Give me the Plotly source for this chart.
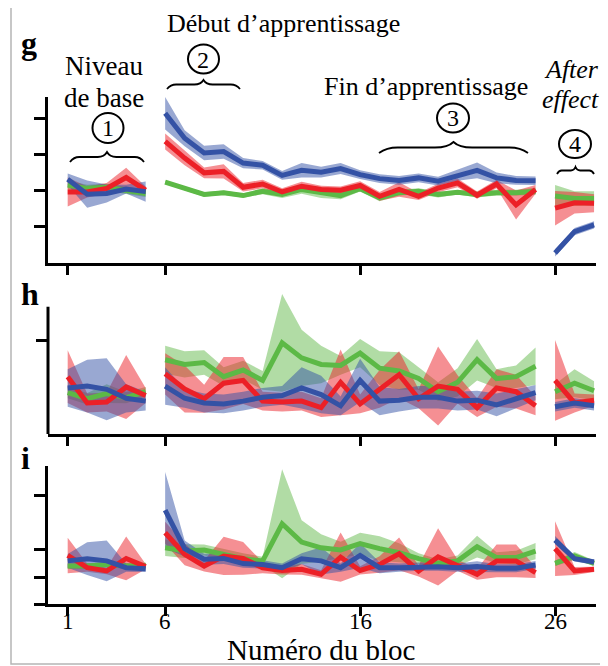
import plotly.graph_objects as go

# page body has an 8px margin: the figure is drawn from (8, 8)
OFF = 8
W, H = 608 - OFF, 666 - OFF

blocks = list(range(1, 29))
segments = [(1, 5), (6, 25), (26, 28)]
x_tick_vals = [1, 6, 16, 26]
x_tick_text = ["1", "6", "16", "26"]

# ---------------- panel g ----------------
g_blue = [1.31, 0.90, 0.92, 1.04, 0.97,
          3.14, 2.45, 2.04, 2.08, 1.76, 1.70, 1.42, 1.56, 1.51, 1.61,
          1.44, 1.33, 1.28, 1.35, 1.26, 1.42, 1.56, 1.35, 1.28, 1.27,
          -0.73, -0.14, 0.05]
g_blue_err = [0.16, 0.38, 0.25, 0.12, 0.28,
              0.45, 0.22, 0.2, 0.2, 0.14, 0.12, 0.12, 0.2, 0.15, 0.15,
              0.12, 0.12, 0.12, 0.12, 0.12, 0.15, 0.22, 0.15, 0.12, 0.12,
              0.1, 0.1, 0.1]
g_red = [0.96, 0.96, 1.06, 1.36, 1.01,
         2.36, 1.90, 1.49, 1.53, 1.09, 1.18, 0.96, 1.12, 1.03, 1.01,
         1.14, 0.84, 1.03, 0.84, 1.07, 1.21, 0.87, 1.18, 0.60, 1.03,
         0.51, 0.66, 0.65]
g_red_err = [0.4, 0.15, 0.15, 0.27, 0.1,
             0.22, 0.2, 0.15, 0.2, 0.12, 0.12, 0.1, 0.12, 0.1, 0.1,
             0.12, 0.12, 0.2, 0.1, 0.12, 0.12, 0.1, 0.12, 0.4, 0.12,
             0.48, 0.3, 0.25]
g_green = [1.15, 1.06, 1.09, 1.01, 0.92,
           1.23, 1.06, 0.89, 0.94, 0.86, 0.98, 0.89, 1.03, 0.94, 0.86,
           1.05, 0.80, 0.94, 0.98, 0.89, 0.95, 0.89, 0.94, 0.94, 0.98,
           0.85, 0.78, 0.78]
g_green_err = [0.12, 0.1, 0.1, 0.1, 0.1,
               0.05, 0.05, 0.06, 0.06, 0.06, 0.08, 0.1, 0.12, 0.15, 0.1,
               0.08, 0.1, 0.08, 0.08, 0.08, 0.06, 0.08, 0.08, 0.08, 0.1,
               0.3, 0.2, 0.2]

# ---------------- panel h ----------------
h_blue = [0.49, 0.51, 0.475, 0.38, 0.35,
          0.51, 0.38, 0.33, 0.32, 0.35, 0.39, 0.41, 0.49, 0.42, 0.30,
          0.57, 0.35, 0.36, 0.39, 0.39, 0.35, 0.36, 0.31, 0.375, 0.44,
          0.29, 0.33, 0.30]
h_blue_err = [0.2, 0.28, 0.33, 0.15, 0.1,
              0.2, 0.1, 0.1, 0.1, 0.1, 0.1, 0.1, 0.22, 0.2, 0.1,
              0.23, 0.15, 0.12, 0.12, 0.12, 0.1, 0.1, 0.12, 0.1, 0.08,
              0.05, 0.05, 0.05]
h_red = [0.61, 0.33, 0.34, 0.50, 0.41,
         0.64, 0.48, 0.375, 0.54, 0.57, 0.35, 0.34, 0.35, 0.28, 0.55,
         0.32, 0.48, 0.63, 0.375, 0.51, 0.475, 0.28, 0.49, 0.45, 0.30,
         0.57, 0.33, 0.36]
h_red_err = [0.28, 0.1, 0.1, 0.34, 0.08,
             0.22, 0.25, 0.15, 0.28, 0.25, 0.1, 0.1, 0.1, 0.1, 0.35,
             0.1, 0.2, 0.25, 0.1, 0.42, 0.15, 0.1, 0.2, 0.18, 0.1,
             0.43, 0.1, 0.06]
h_green = [0.44, 0.375, 0.43, 0.386, 0.45,
           0.79, 0.74, 0.76, 0.61, 0.68, 0.57, 0.97, 0.81, 0.74, 0.73,
           0.86, 0.70, 0.67, 0.59, 0.45, 0.55, 0.79, 0.59, 0.61, 0.72,
           0.45, 0.54, 0.46]
h_green_err = [0.06, 0.06, 0.1, 0.06, 0.05,
               0.15, 0.14, 0.13, 0.1, 0.1, 0.1, 0.52, 0.3, 0.2, 0.1,
               0.15, 0.18, 0.2, 0.12, 0.1, 0.15, 0.22, 0.1, 0.12, 0.2,
               0.08, 0.15, 0.1]

# ---------------- panel i ----------------
i_blue = [1.59, 1.67, 1.59, 1.34, 1.30,
          3.45, 2.04, 1.65, 1.68, 1.49, 1.46, 1.34, 1.67, 1.59, 1.34,
          1.79, 1.34, 1.34, 1.38, 1.38, 1.34, 1.38, 1.32, 1.32, 1.44,
          2.35, 1.67, 1.55]
i_blue_err = [0.25, 0.6, 0.75, 0.15, 0.12,
              1.4, 0.3, 0.2, 0.2, 0.15, 0.15, 0.15, 0.2, 0.5, 0.15,
              0.45, 0.2, 0.15, 0.15, 0.15, 0.15, 0.2, 0.15, 0.15, 0.15,
              0.15, 0.1, 0.1]
i_red = [1.79, 1.34, 1.22, 1.68, 1.38,
         2.62, 1.83, 1.40, 1.77, 1.68, 1.34, 1.24, 1.28, 1.10, 1.73,
         1.24, 1.46, 1.85, 1.22, 1.74, 1.43, 1.10, 1.59, 1.59, 1.16,
         2.04, 1.22, 1.28]
i_red_err = [0.65, 0.15, 0.12, 0.8, 0.1,
             0.4, 0.4, 0.2, 0.7, 0.6, 0.2, 0.15, 0.2, 0.15, 0.9,
             0.15, 0.3, 0.6, 0.2, 1.05, 0.2, 0.2, 0.6, 0.6, 0.2,
             1.0, 0.15, 0.1]
i_green = [1.40, 1.40, 1.46, 1.40, 1.43,
           2.07, 1.95, 1.99, 1.83, 1.67, 1.59, 2.95, 2.28, 2.07, 1.99,
           2.22, 2.04, 1.89, 1.67, 1.50, 1.59, 2.11, 1.71, 1.71, 1.95,
           1.50, 1.77, 1.50]
i_green_err = [0.1, 0.1, 0.1, 0.1, 0.08,
               0.3, 0.25, 0.2, 0.2, 0.2, 0.15, 2.0, 0.8, 0.5, 0.3,
               0.4, 0.45, 0.35, 0.2, 0.15, 0.2, 0.4, 0.2, 0.25, 0.3,
               0.1, 0.15, 0.1]

panel_labels = ["g", "h", "i"]
x_title = "Numéro du bloc"

BLUE, RED, GREEN = "rgb(52,82,165)", "rgb(236,32,39)", "rgb(92,185,70)"
BLUE_F, RED_F, GREEN_F = "rgba(52,82,165,0.5)", "rgba(236,32,39,0.5)", "rgba(100,185,75,0.5)"
SERIF = "Liberation Serif"

panels = [
    ("x", "y", [(g_green, g_green_err, GREEN, GREEN_F), (g_red, g_red_err, RED, RED_F), (g_blue, g_blue_err, BLUE, BLUE_F)]),
    ("x2", "y2", [(h_green, h_green_err, GREEN, GREEN_F), (h_red, h_red_err, RED, RED_F), (h_blue, h_blue_err, BLUE, BLUE_F)]),
    ("x3", "y3", [(i_green, i_green_err, GREEN, GREEN_F), (i_red, i_red_err, RED, RED_F), (i_blue, i_blue_err, BLUE, BLUE_F)]),
]

fig = go.Figure()

for xa, ya, series in panels:
    for mean, err, lc, fc in series:
        for a, b in segments:
            xs = blocks[a - 1:b]
            m = mean[a - 1:b]
            e = err[a - 1:b]
            up = [mm + ee for mm, ee in zip(m, e)]
            lo = [mm - ee for mm, ee in zip(m, e)]
            fig.add_trace(go.Scatter(x=xs + xs[::-1], y=up + lo[::-1], fill="toself",
                                     fillcolor=fc, line=dict(width=0), mode="lines",
                                     xaxis=xa, yaxis=ya, hoverinfo="skip", showlegend=False))
    for mean, err, lc, fc in series:
        for a, b in segments:
            xs = blocks[a - 1:b]
            fig.add_trace(go.Scatter(x=xs, y=mean[a - 1:b], mode="lines",
                                     line=dict(color=lc, width=5),
                                     xaxis=xa, yaxis=ya, showlegend=False))


def px(x, y):
    """screen pixel -> paper fraction"""
    return (x - OFF) / W, 1 - (y - OFF) / H


def pxx(x):
    return (x - OFF) / W


def pxy(y):
    return 1 - (y - OFF) / H


x_dom = [pxx(48), pxx(596)]
x_range = [-0.01, 28.1]
common_x = dict(range=x_range, domain=x_dom, showgrid=False, zeroline=False,
                showline=True, linecolor="black", linewidth=3,
                ticks="outside", ticklen=9, tickwidth=3, tickcolor="black",
                tickvals=x_tick_vals, ticktext=x_tick_text, showticklabels=False)
common_y = dict(showgrid=False, zeroline=False, ticks="outside", ticklen=11,
                tickwidth=3, tickcolor="black", showticklabels=False)

fig.update_layout(
    width=W, height=H, margin=dict(l=0, r=0, t=0, b=0),
    paper_bgcolor="white", plot_bgcolor="rgba(0,0,0,0)",
    showlegend=False,
    xaxis=dict(common_x, anchor="y"),
    xaxis2=dict(common_x, anchor="y2"),
    xaxis3=dict(common_x, anchor="y3"),
    yaxis=dict(common_y, anchor="x", domain=[pxy(262.7), pxy(96.7)], range=[-1, 3.6],
               tickvals=[0, 1, 2, 3], showline=True, linecolor="black", linewidth=3),
    yaxis2=dict(common_y, anchor="x2", domain=[pxy(434), pxy(290)], range=[0, 1.532],
                tickvals=[1], showline=False),
    yaxis3=dict(common_y, anchor="x3", domain=[pxy(604.3), pxy(466)], range=[0, 5.066],
                tickvals=[0, 1, 2, 4], showline=True, linecolor="black", linewidth=3),
)

shapes = []
# outer light frame
shapes.append(dict(type="rect", xref="paper", yref="paper", x0=pxx(11), x1=1.2, y0=pxy(664), y1=pxy(5),
                   line=dict(color="#b5b5b5", width=1.5), layer="below"))
# y axis line of panel h (the green band pokes above the axis top)
shapes.append(dict(type="line", xref="paper", yref="y2", x0=pxx(48), x1=pxx(48), y0=0, y1=1.354,
                   line=dict(color="black", width=3)))

circles = [(108, 128, 15.5, 15), (203.5, 59, 15.5, 14.5), (453, 118, 16, 14.5), (575, 144, 16, 14)]
for cx, cy, rx, ry in circles:
    x0, y0 = px(cx - rx, cy + ry)
    x1, y1 = px(cx + rx, cy - ry)
    shapes.append(dict(type="circle", xref="paper", yref="paper", x0=x0, x1=x1, y0=y0, y1=y1,
                       line=dict(color="black", width=2)))


def brace(xl, xr, ytop, h):
    xm = (xl + xr) / 2
    ym = ytop + h * 0.5
    q = (xm - xl) * 0.25

    def P(x, y):
        a, b = px(x, y)
        return f"{a:.5f},{b:.5f}"
    d = (f"M{P(xl, ytop + h)} Q{P(xl + q * 0.4, ym)} {P(xl + q, ym)} "
         f"L{P(xm - q, ym)} Q{P(xm - q * 0.3, ym)} {P(xm, ytop)} "
         f"Q{P(xm + q * 0.3, ym)} {P(xm + q, ym)} "
         f"L{P(xr - q, ym)} Q{P(xr - q * 0.4, ym)} {P(xr, ytop + h)}")
    return dict(type="path", xref="paper", yref="paper", path=d, line=dict(color="black", width=1.8))


shapes.append(brace(70, 144, 152, 10))
shapes.append(brace(167, 240, 80, 9))
shapes.append(brace(379, 528, 142, 11))
shapes.append(brace(557, 594, 167, 7))

fig.update_layout(shapes=shapes)

annots = []


def text(t, x, y, size, bold=False, italic=False, xanchor="center", yanchor="middle"):
    xx, yy = px(x, y)
    if bold:
        t = f"<b>{t}</b>"
    if italic:
        t = f"<i>{t}</i>"
    annots.append(dict(text=t, x=xx, y=yy, xref="paper", yref="paper", showarrow=False,
                       xanchor=xanchor, yanchor=yanchor, borderpad=0,
                       font=dict(family=SERIF, size=size, color="black")))


text(panel_labels[0], 29, 43, 32, bold=True)
text(panel_labels[1], 30, 294, 32, bold=True)
text(panel_labels[2], 25, 458, 32, bold=True)
text("Niveau", 104, 66, 27)
text("de base", 104, 98, 27)
text("Début d’apprentissage", 283, 23.5, 26)
text("Fin d’apprentissage", 426, 86, 26)
text("After", 571, 69, 26, italic=True)
text("effect", 570, 100, 26, italic=True)
for n, (cx, cy, rx, ry) in enumerate(circles, start=1):
    text(str(n), cx, cy + 0.5, 24)

# x tick labels of the bottom panel, placed on the x3 scale
for v, t in zip(x_tick_vals, x_tick_text):
    annots.append(dict(text=t, x=v, xref="x3", y=pxy(621.5), yref="paper", showarrow=False,
                       xanchor="center", yanchor="middle", borderpad=0,
                       font=dict(family=SERIF, size=23, color="black")))

text(x_title, 321, 650, 29)

fig.update_layout(annotations=annots)

fig.write_html("out.html")
